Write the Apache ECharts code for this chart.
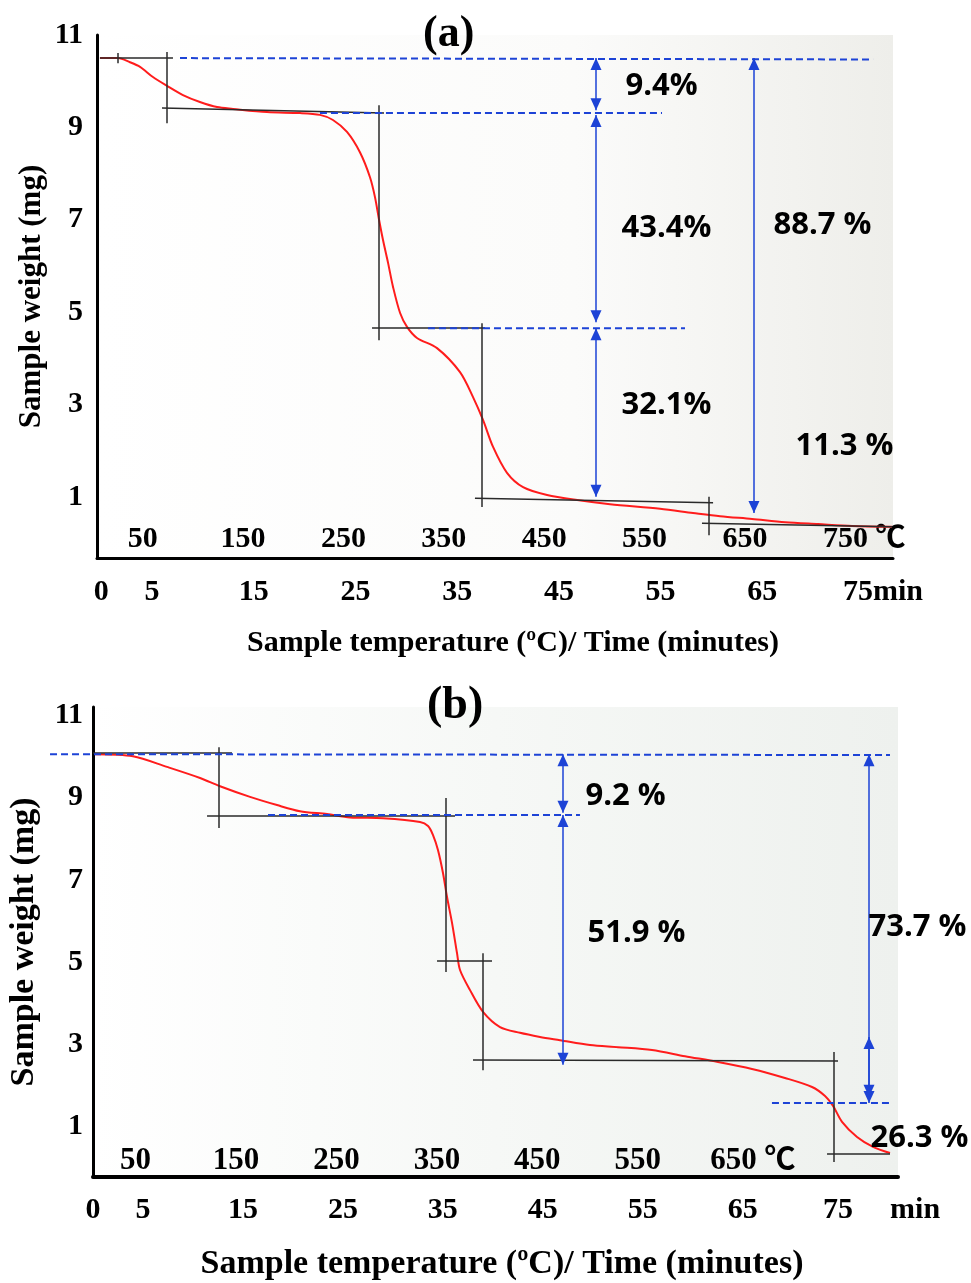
<!DOCTYPE html>
<html>
<head>
<meta charset="utf-8">
<script src="https://cdn.jsdelivr.net/npm/echarts@6/dist/echarts.min.js"></script>
<style>
html, body { margin: 0; padding: 0; background: #fff; }
#main { width: 971px; height: 1283px; }
</style>
</head>
<body>
<div id="main"></div>
<script>
// (a) trace: time in minutes, weight in mg
var timeA = [-0.12, 1.65, 2.83, 3.82, 5.09, 6.47, 8.04, 9.71, 11.39, 12.96, 16.30, 19.55, 21.51, 22.79, 24.17, 25.44, 26.43, 26.92, 27.32, 27.71, 28.21, 28.70, 29.39, 30.07, 31.05, 33.02, 35.28, 36.56, 37.55, 38.53, 39.90, 41.48, 43.84, 46.79, 50.03, 54.95, 58.19, 60.85, 63.99, 67.24, 70.48, 73.83, 77.76];
var weightA = [10.50, 10.50, 10.41, 10.31, 10.09, 9.90, 9.70, 9.55, 9.44, 9.40, 9.33, 9.31, 9.27, 9.16, 8.90, 8.46, 7.92, 7.49, 7.00, 6.56, 6.06, 5.54, 4.98, 4.68, 4.44, 4.22, 3.70, 3.16, 2.66, 2.08, 1.52, 1.21, 1.04, 0.93, 0.84, 0.74, 0.65, 0.58, 0.52, 0.45, 0.41, 0.37, 0.35];

// (b) trace
var timeB = [0.20, 4.00, 7.40, 10.71, 12.71, 15.71, 18.41, 20.71, 23.41, 25.71, 29.01, 32.72, 33.52, 34.02, 34.52, 35.02, 35.42, 35.92, 36.42, 36.72, 37.72, 39.02, 40.72, 42.72, 44.72, 46.72, 49.72, 52.53, 55.93, 59.23, 62.53, 65.93, 69.23, 71.94, 73.24, 74.04, 74.94, 76.44, 78.04, 79.74];
var weightB = [10.06, 10.01, 9.75, 9.48, 9.28, 9.02, 8.82, 8.67, 8.60, 8.52, 8.50, 8.41, 8.31, 8.09, 7.72, 7.16, 6.58, 5.95, 5.21, 4.80, 4.31, 3.78, 3.41, 3.27, 3.17, 3.09, 2.97, 2.92, 2.85, 2.70, 2.56, 2.39, 2.17, 1.95, 1.73, 1.49, 1.10, 0.73, 0.49, 0.34];

// tick labels
var weightTicks = [1, 3, 5, 7, 9, 11];
var timeTicks = [0, 5, 15, 25, 35, 45, 55, 65, 75];
var tempTicksA = [50, 150, 250, 350, 450, 550, 650, 750];
var tempTicksB = [50, 150, 250, 350, 450, 550, 650];

// tangent construction: [t1, w1, t2, w2]
var tangentA = [[-0.12, 10.50, 7.06, 10.50], [1.65, 10.61, 1.65, 10.39], [6.47, 10.63, 6.47, 9.09],
    [5.98, 9.42, 27.81, 9.31], [27.32, 9.48, 27.32, 4.39], [26.63, 4.65, 37.74, 4.65],
    [37.44, 4.76, 37.44, 0.78], [36.75, 0.97, 60.16, 0.87], [59.77, 1.00, 59.77, 0.17],
    [59.07, 0.43, 77.76, 0.35]];
var levelA = [[7.75, 10.50, 75.89, 10.47], [21.51, 9.31, 55.14, 9.31], [32.13, 4.65, 57.40, 4.65]];
var arrowA = [[48.65, 10.50, 48.65, 9.37], [48.65, 9.27, 48.65, 4.78], [48.65, 4.65, 48.65, 1.00], [64.18, 10.50, 64.18, 0.65]];
var lossA = ['9.4%', '43.4%', '88.7 %', '32.1%', '11.3 %'];
var lossAtA = [[51.50, 9.89], [51.11, 6.82], [66.05, 6.88], [51.11, 2.99], [68.22, 2.10]];

var tangentB = [[0.00, 10.09, 13.91, 10.09], [12.61, 10.23, 12.61, 8.26], [11.41, 8.55, 36.22, 8.55],
    [35.32, 8.99, 35.32, 4.75], [34.42, 5.02, 39.92, 5.02], [39.02, 5.21, 39.02, 2.36],
    [38.02, 2.61, 74.54, 2.58], [74.14, 2.80, 74.14, 0.12], [73.44, 0.32, 79.74, 0.32]];
var levelB = [[-4.30, 10.06, 79.74, 10.04], [17.51, 8.58, 48.72, 8.58], [67.93, 1.56, 79.74, 1.56]];
var arrowB = [[47.02, 10.06, 47.02, 8.63], [47.02, 8.58, 47.02, 2.49], [77.64, 10.06, 77.64, 1.71], [77.64, 3.17, 77.64, 1.56]];
var lossB = ['9.2 %', '51.9 %', '73.7 %', '26.3 %'];
var lossAtB = [[49.22, 9.04], [49.42, 5.70], [77.54, 5.85], [77.74, 0.71]];

var serif = "'Liberation Serif', 'Times New Roman', 'Noto Sans CJK SC', serif";
var blue = '#1d43d6';

function zip(xs, ys) {
    return xs.map(function (x, i) { return [x, ys[i]]; });
}
function segs(list) {
    return list.map(function (s) { return [{ coord: [s[0], s[1]] }, { coord: [s[2], s[3]] }]; });
}
function tags(texts, at) {
    return texts.map(function (t, i) { return { name: t, coord: at[i] }; });
}

function panelSeries(idx, time, weight, tangent, arrow, loss, lossAt) {
    return [{
        type: 'line', xAxisIndex: idx * 2, yAxisIndex: idx,
        data: zip(time, weight), smooth: 0.3,
        symbol: 'none', clip: false, z: 4,
        lineStyle: { color: '#ff1c1c', width: 2 }
    }, {
        type: 'line', xAxisIndex: idx * 2, yAxisIndex: idx, data: [], clip: false, z: 3,
        markLine: {
            silent: true, animation: false, symbol: 'none', label: { show: false },
            lineStyle: { color: '#2a2a2a', width: 1.5, type: 'solid' },
            data: segs(tangent)
        }
    }, {
        type: 'line', xAxisIndex: idx * 2, yAxisIndex: idx, data: [], clip: false, z: 5,
        markLine: {
            silent: true, animation: false,
            symbol: ['triangle', 'triangle'], symbolSize: [11, 12],
            symbolOffset: [[0, '50%'], [0, '50%']],
            label: { show: false },
            lineStyle: { color: blue, width: 1.5, type: 'solid' },
            data: segs(arrow)
        },
        markPoint: {
            silent: true, animation: false, symbol: 'circle', symbolSize: 1,
            itemStyle: { color: 'rgba(0,0,0,0)' },
            label: {
                show: true, position: 'right', distance: 0,
                formatter: function (p) { return p.name; },
                color: '#000', fontSize: 31, fontWeight: 'bold', fontFamily: "'Open Sans', 'Liberation Sans', sans-serif"
            },
            data: tags(loss, lossAt)
        }
    }];
}

var chart = echarts.init(document.getElementById('main'));

var tickFont = { color: '#000', fontFamily: serif, fontWeight: 'bold' };

option = {
    backgroundColor: '#fff',
    animation: false,
    title: [{
        text: '(a)', left: 418, top: 8,
        textStyle: { color: '#000', fontFamily: serif, fontWeight: 'bold', fontSize: 44 }
    }, {
        text: '(b)', left: 422, top: 678,
        textStyle: { color: '#000', fontFamily: serif, fontWeight: 'bold', fontSize: 46 }
    }],
    grid: [{
        left: 97, top: 35, width: 796, height: 523, show: true, borderWidth: 0,
        outerBoundsMode: 'none',
        backgroundColor: new echarts.graphic.LinearGradient(0, 0, 1, 0, [
            { offset: 0, color: '#ffffff' }, { offset: 0.6, color: '#fbfbfa' }, { offset: 1, color: '#eeeeea' }])
    }, {
        left: 93, top: 707, width: 805, height: 470, show: true, borderWidth: 0,
        outerBoundsMode: 'none',
        backgroundColor: new echarts.graphic.LinearGradient(0, 0, 1, 0, [
            { offset: 0, color: '#ffffff' }, { offset: 0.5, color: '#f6f8f6' }, { offset: 1, color: '#eef1ee' }])
    }],
    xAxis: [{
        // (a) time
        gridIndex: 0, type: 'value', min: -0.41, max: 77.85, position: 'bottom',
        axisLine: { onZero: false, lineStyle: { color: '#000', width: 3 } },
        axisTick: { show: false }, splitLine: { show: false },
        axisLabel: Object.assign({
            customValues: timeTicks, fontSize: 30, margin: 19,
            formatter: function (v) { return v === 75 ? '{sp|}75min' : String(v); },
            rich: { sp: { width: 38 } }
        }, tickFont),
        name: 'Sample temperature (ºC)/ Time (minutes)', nameLocation: 'middle', nameGap: 70,
        nameMoveOverlap: false,
        nameTextStyle: { color: '#000', fontFamily: serif, fontWeight: 'bold', fontSize: 30, padding: [0, 0, 0, 36] }
    }, {
        // (a) temperature
        gridIndex: 0, type: 'value', min: 4.5, max: 797.5, position: 'bottom',
        axisLine: { show: false, onZero: false }, splitLine: { show: false },
        axisTick: { show: false },
        axisLabel: Object.assign({
            customValues: tempTicksA, inside: true, fontSize: 30, margin: 4,
            formatter: function (v) { return v === 750 ? '{sp|}750 ℃' : String(v); },
            rich: { sp: { width: 38 } }
        }, tickFont)
    }, {
        // (b) time
        gridIndex: 1, type: 'value', min: 0, max: 80.54, position: 'bottom',
        axisLine: { onZero: false, lineStyle: { color: '#000', width: 4 } },
        axisTick: { show: false }, splitLine: { show: false },
        axisLabel: Object.assign({
            customValues: timeTicks, fontSize: 30, margin: 18,
            formatter: function (v) { return v === 75 ? '{sp|}75{gp|}min' : String(v); },
            rich: { sp: { width: 78 }, gp: { width: 37 } }
        }, tickFont),
        name: 'Sample temperature (ºC)/ Time (minutes)', nameLocation: 'middle', nameGap: 70,
        nameMoveOverlap: false,
        nameTextStyle: { color: '#000', fontFamily: serif, fontWeight: 'bold', fontSize: 34, padding: [0, 0, 0, 13] }
    }, {
        // (b) temperature
        gridIndex: 1, type: 'value', min: 7.7, max: 809, position: 'bottom',
        axisLine: { show: false, onZero: false }, splitLine: { show: false },
        axisTick: { show: false },
        axisLabel: Object.assign({
            customValues: tempTicksB, inside: true, fontSize: 31, margin: 1,
            formatter: function (v) { return v === 650 ? '{sp|}650 ℃' : String(v); },
            rich: { sp: { width: 29 } }
        }, tickFont)
    }],
    yAxis: [{
        gridIndex: 0, type: 'value', min: -0.325, max: 11,
        axisLine: { show: true, onZero: false, lineStyle: { color: '#000', width: 3 } },
        axisTick: { show: false }, splitLine: { show: false },
        axisLabel: Object.assign({ customValues: weightTicks, fontSize: 30, margin: 14 }, tickFont),
        name: 'Sample weight (mg)', nameLocation: 'middle', nameGap: 50, nameMoveOverlap: false,
        nameTextStyle: { color: '#000', fontFamily: serif, fontWeight: 'bold', fontSize: 31 }
    }, {
        gridIndex: 1, type: 'value', min: -0.244, max: 11.21,
        axisLine: { show: true, onZero: false, lineStyle: { color: '#000', width: 3 } },
        axisTick: { show: false }, splitLine: { show: false },
        axisLabel: Object.assign({ customValues: weightTicks, fontSize: 30, margin: 10 }, tickFont),
        name: 'Sample weight (mg)', nameLocation: 'middle', nameGap: 52, nameMoveOverlap: false,
        nameTextStyle: { color: '#000', fontFamily: serif, fontWeight: 'bold', fontSize: 34 }
    }],
    series: panelSeries(0, timeA, weightA, tangentA, arrowA, lossA, lossAtA)
        .concat(panelSeries(1, timeB, weightB, tangentB, arrowB, lossB, lossAtB))
};

chart.setOption(option);

// dashed level lines: mapped through the axes, drawn as graphics so they may run past the y axis
function levelLines(level, finder) {
    return level.map(function (s) {
        var p1 = chart.convertToPixel(finder, [s[0], s[1]]);
        var p2 = chart.convertToPixel(finder, [s[2], s[3]]);
        return {
            type: 'line', silent: true, z: 6,
            shape: { x1: p1[0], y1: p1[1], x2: p2[0], y2: p2[1] },
            style: { stroke: blue, lineWidth: 2, lineDash: [7, 4] }
        };
    });
}
chart.setOption({
    graphic: levelLines(levelA, { xAxisIndex: 0, yAxisIndex: 0 })
        .concat(levelLines(levelB, { xAxisIndex: 2, yAxisIndex: 1 }))
});
</script>
</body>
</html>
